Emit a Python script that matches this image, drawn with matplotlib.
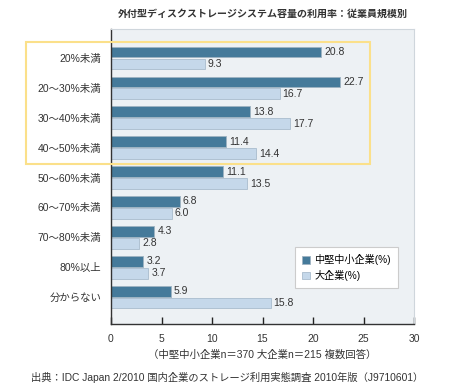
import numpy as np
import matplotlib.pyplot as plt
from matplotlib.patches import Rectangle

plt.rcParams['font.family'] = ['Liberation Sans', 'Noto Sans CJK JP', 'DejaVu Sans']

# data
categories = ["20%未満", "20～30%未満", "30～40%未満", "40～50%未満",
              "50～60%未満", "60～70%未満", "70～80%未満", "80%以上", "分からない"]
smb = [20.8, 22.7, 13.8, 11.4, 11.1, 6.8, 4.3, 3.2, 5.9]
large = [9.3, 16.7, 17.7, 14.4, 13.5, 6.0, 2.8, 3.7, 15.8]
xticks = [0, 5, 10, 15, 20, 25, 30]

dark = "#457a9a"
light = "#c5d8ea"
txt = "#333333"

fig = plt.figure(figsize=(4.55, 3.9), dpi=100)
ax = fig.add_axes([111/455, 1 - 324/390, 303/455, 295/390])
ax.set_facecolor("#edf1f4")

y = np.arange(len(categories))
h = 0.36
ax.barh(y - 0.2, smb, height=h, color=dark, edgecolor="#9fb3c2", linewidth=0.6,
        label="中堅中小企業(%)")
ax.barh(y + 0.2, large, height=h, color=light, edgecolor="#a9bccd", linewidth=0.6,
        label="大企業(%)")

for i in range(len(categories)):
    ax.text(smb[i] + 0.3, y[i] - 0.2, f"{smb[i]:.1f}", va="center", ha="left",
            fontsize=7.5, color=txt)
    ax.text(large[i] + 0.3, y[i] + 0.2, f"{large[i]:.1f}", va="center", ha="left",
            fontsize=7.5, color=txt)

ax.set_xlim(0, 30)
ax.set_ylim(8.9, -0.97)
ax.set_xticks(xticks)
ax.set_yticks(y)
ax.set_yticklabels(categories, fontsize=7.5, color=txt)
ax.tick_params(axis="y", length=0, pad=7)
ax.tick_params(axis="x", direction="in", length=5, width=1, color="#222222",
               labelsize=7.5, labelcolor=txt, pad=7)

for s in ["top", "right"]:
    ax.spines[s].set_color("#cfd6dc")
    ax.spines[s].set_linewidth(0.8)
for s in ["left", "bottom"]:
    ax.spines[s].set_color("#333333")
    ax.spines[s].set_linewidth(1.0)

leg = ax.legend(loc="lower right", bbox_to_anchor=(0.947, 0.122), fontsize=7.3,
                frameon=True, fancybox=False, handlelength=0.8, handleheight=0.8,
                handletextpad=0.4, borderpad=0.7, labelspacing=0.45,
                borderaxespad=0)
leg.get_frame().set_edgecolor("#cccccc")
leg.get_frame().set_linewidth(0.8)
leg.get_frame().set_facecolor("white")
leg.get_frame().set_alpha(1)

# yellow highlight box
fig.patches.append(Rectangle((26/455, 1 - 164/390), 344/455, 122/390,
                             transform=fig.transFigure, fill=False,
                             edgecolor="#fbe08a", linewidth=1.5, zorder=10))

fig.text(262.5/455, 1 - 14/390, "外付型ディスクストレージシステム容量の利用率：従業員規模別",
         ha="center", va="center", fontsize=7.2, fontweight="bold", color=txt)
fig.text(262.5/455, 1 - 355/390, "（中堅中小企業n＝370 大企業n＝215 複数回答）",
         ha="center", va="center", fontsize=7.5, color=txt)
fig.text(227/455, 1 - 377/390,
         "出典：IDC Japan 2/2010 国内企業のストレージ利用実態調査 2010年版（J9710601）",
         ha="center", va="center", fontsize=7.4, color=txt)

fig.savefig("out.png", dpi=100, facecolor="white")
